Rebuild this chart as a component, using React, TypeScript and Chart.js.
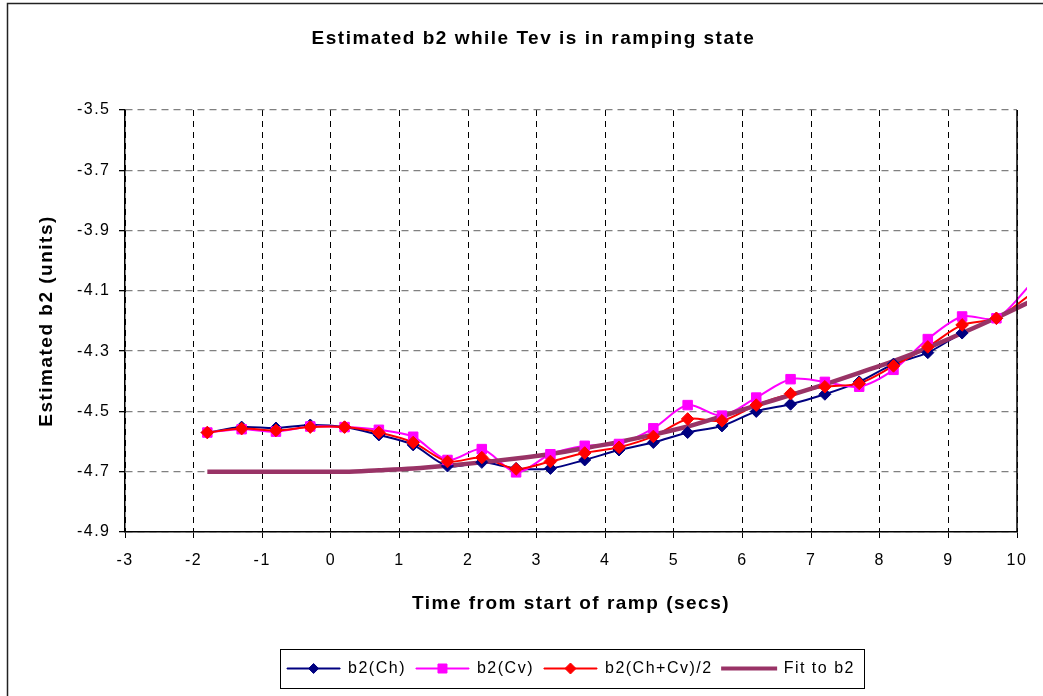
import React, { useEffect, useRef } from 'react';
import { Chart, registerables } from 'chart.js';

Chart.register(...registerables);

// ---- data ----
const TIME = [-1.8, -1.3, -0.8, -0.3, 0.2, 0.7, 1.2, 1.7, 2.2, 2.7, 3.2, 3.7, 4.2, 4.7, 5.2, 5.7, 6.2, 6.7, 7.2, 7.7, 8.2, 8.7, 9.2, 9.7, 10.2];
const B2_CH = [-4.570, -4.552, -4.555, -4.545, -4.552, -4.578, -4.611, -4.681, -4.669, -4.689, -4.689, -4.661, -4.628, -4.603, -4.570, -4.548, -4.500, -4.476, -4.443, -4.402, -4.343, -4.305, -4.240, -4.191, -4.136];
const B2_CV = [-4.570, -4.559, -4.567, -4.550, -4.552, -4.561, -4.584, -4.661, -4.625, -4.702, -4.642, -4.614, -4.608, -4.556, -4.479, -4.514, -4.454, -4.393, -4.402, -4.418, -4.362, -4.260, -4.185, -4.191, -4.078];
const B2_AVG = [-4.570, -4.557, -4.563, -4.552, -4.552, -4.570, -4.603, -4.666, -4.653, -4.691, -4.666, -4.638, -4.619, -4.583, -4.525, -4.531, -4.479, -4.441, -4.418, -4.407, -4.349, -4.286, -4.213, -4.191, -4.111];
const B2_FIT = [-4.700, -4.700, -4.700, -4.700, -4.700, -4.695, -4.689, -4.680, -4.669, -4.656, -4.641, -4.622, -4.601, -4.577, -4.550, -4.516, -4.480, -4.446, -4.410, -4.372, -4.333, -4.289, -4.240, -4.189, -4.135];

const X_TICKS = [-3, -2, -1, 0, 1, 2, 3, 4, 5, 6, 7, 8, 9, 10];
const Y_TICKS = [-4.9, -4.7, -4.5, -4.3, -4.1, -3.9, -3.7, -3.5];

const SERIES_NAMES = ['b2(Ch)', 'b2(Cv)', 'b2(Ch+Cv)/2', 'Fit to b2'];
const TITLE = 'Estimated b2 while Tev is in ramping state';
const X_TITLE = 'Time from start of ramp (secs)';
const Y_TITLE = 'Estimated b2 (units)';

const COLORS = ['#000080', '#FF00FF', '#FF0000', '#993366'];
const FONT = "'Liberation Sans', Arial, sans-serif";
const BOX_W = 53;
const SPACING = '1.5px';

const toPoints = (ys: number[]) => TIME.map((x, i) => ({ x, y: ys[i] }));

const lineDs = (label: string, ys: number[], color: string, order: number, width: number, extra: any = {}) => ({
  label,
  data: toPoints(ys),
  borderColor: color,
  backgroundColor: color,
  borderWidth: width,
  pointRadius: 0,
  tension: 0.3,
  fill: false,
  clip: { left: 0, top: 0, right: 10, bottom: 0 },
  order,
  ...extra,
});

const pointDs = (label: string, ys: number[], color: string, style: string, radius: number, order: number) => ({
  label,
  data: toPoints(ys),
  showLine: false,
  pointStyle: style,
  pointRadius: radius,
  pointBackgroundColor: color,
  pointBorderColor: color,
  pointBorderWidth: 1,
  borderColor: color,
  backgroundColor: color,
  order,
});

function drawMarker(ctx: CanvasRenderingContext2D, kind: string, x: number, y: number, r: number, color: string) {
  ctx.save();
  ctx.fillStyle = color;
  ctx.strokeStyle = color;
  ctx.lineWidth = 1;
  ctx.beginPath();
  if (kind === 'diamond') {
    ctx.moveTo(x - r, y);
    ctx.lineTo(x, y - r);
    ctx.lineTo(x + r, y);
    ctx.lineTo(x, y + r);
    ctx.closePath();
  } else {
    ctx.rect(x - r, y - r, 2 * r, 2 * r);
  }
  ctx.fill();
  ctx.stroke();
  ctx.restore();
}

const decorPlugin = {
  id: 'decor',
  beforeLayout(chart: any) {
    chart.ctx.letterSpacing = SPACING;
  },
  beforeDraw(chart: any) {
    const ctx = chart.ctx;
    ctx.letterSpacing = SPACING;
    ctx.save();
    ctx.strokeStyle = '#222';
    ctx.lineWidth = 1.5;
    ctx.beginPath();
    ctx.moveTo(7.5, 700);
    ctx.lineTo(7.5, 3.5);
    ctx.lineTo(1050, 3.5);
    ctx.stroke();
    ctx.restore();
  },
  afterDraw(chart: any) {
    const { ctx, chartArea } = chart;
    ctx.save();
    ctx.strokeStyle = '#000';
    ctx.lineWidth = 1.5;
    ctx.beginPath();
    ctx.moveTo(chartArea.right, chartArea.top);
    ctx.lineTo(chartArea.right, chartArea.bottom);
    ctx.stroke();

    const hb = chart.legend && chart.legend.legendHitBoxes;
    if (hb && hb.length) {
      const first = hb[0];
      const last = hb[hb.length - 1];
      const cy = first.top + first.height / 2;
      ctx.strokeStyle = '#000';
      ctx.lineWidth = 1;
      ctx.strokeRect(Math.round(first.left - 7) + 0.5, Math.round(cy - 19.5) + 0.5, Math.round(last.left + last.width + 9 - (first.left - 7)), 39);
      const kinds = ['diamond', 'square', 'diamond'];
      const sizes = [5, 4.5, 5.5];
      for (let i = 0; i < 3 && i < hb.length; i++) {
        const b = hb[i];
        drawMarker(ctx, kinds[i], b.left + BOX_W / 2, b.top + b.height / 2, sizes[i], COLORS[i]);
      }
    }
    ctx.restore();
  },
};

export default function App() {
  const ref = useRef<HTMLCanvasElement>(null);

  useEffect(() => {
    document.body.style.margin = '0';
    const canvas = ref.current;
    if (!canvas) return;

    const config: any = {
      type: 'line',
      data: {
        datasets: [
          lineDs(SERIES_NAMES[0], B2_CH, COLORS[0], 7, 2),
          lineDs(SERIES_NAMES[1], B2_CV, COLORS[1], 6, 2),
          lineDs(SERIES_NAMES[2], B2_AVG, COLORS[2], 5, 2),
          lineDs(SERIES_NAMES[3], B2_FIT, COLORS[3], 4, 4.5, { cubicInterpolationMode: 'monotone' }),
          pointDs(SERIES_NAMES[0], B2_CH, COLORS[0], 'rectRot', 6, 3),
          pointDs(SERIES_NAMES[1], B2_CV, COLORS[1], 'rect', 6.7, 2),
          pointDs(SERIES_NAMES[2], B2_AVG, COLORS[2], 'rectRot', 6.3, 1),
        ],
      },
      options: {
        responsive: false,
        animation: false,
        events: [],
        layout: { padding: { left: 50, right: 26, top: 0, bottom: 9.5 } },
        plugins: {
          title: {
            display: true,
            text: TITLE,
            color: '#000',
            font: { size: 19, weight: 'bold', family: FONT },
            padding: { top: 27.4, bottom: 59.8 },
          },
          legend: {
            display: true,
            position: 'bottom',
            fullSize: false,
            labels: {
              boxWidth: BOX_W,
              boxHeight: 1,
              padding: 10,
              color: '#000',
              font: { size: 16, family: FONT },
              generateLabels: () =>
                SERIES_NAMES.map((text, i) => ({
                  text,
                  fillStyle: COLORS[i],
                  strokeStyle: COLORS[i],
                  lineWidth: i === 3 ? 3 : 1,
                  hidden: false,
                  datasetIndex: i,
                  fontColor: '#000',
                })),
            },
          },
          tooltip: { enabled: false },
        },
        scales: {
          x: {
            type: 'linear',
            min: -3,
            max: 10,
            afterBuildTicks: (s: any) => {
              s.ticks = X_TICKS.map((v) => ({ value: v }));
            },
            afterFit: (s: any) => {
              s.height = 118.5;
            },
            ticks: {
              padding: 12.9,
              color: '#000',
              autoSkip: false,
              maxRotation: 0,
              font: { size: 16, family: FONT },
              callback: (v: any) => String(v),
            },
            grid: { color: '#000', lineWidth: 1, tickColor: '#000', tickLength: 6 },
            border: { color: '#000', width: 1.5, dash: [6, 5] },
            title: {
              display: true,
              text: X_TITLE,
              color: '#000',
              font: { size: 19, weight: 'bold', family: FONT },
              padding: { top: 0, bottom: 35 },
            },
          },
          y: {
            type: 'linear',
            min: -4.9,
            max: -3.5,
            afterBuildTicks: (s: any) => {
              s.ticks = Y_TICKS.map((v) => ({ value: v }));
            },
            afterFit: (s: any) => {
              s.width = 75;
            },
            ticks: {
              padding: 8.5,
              color: '#000',
              font: { size: 16, family: FONT },
              callback: (v: any) => Number(v).toFixed(1),
            },
            grid: { color: '#808080', lineWidth: 1.3, tickColor: '#000', tickLength: 6 },
            border: { color: '#000', width: 1.5, dash: [7, 5] },
            title: {
              display: true,
              text: Y_TITLE,
              color: '#000',
              font: { size: 19, weight: 'bold', family: FONT },
              padding: { top: -14.4, bottom: 0 },
            },
          },
        },
      },
      plugins: [decorPlugin],
    };

    const chart = new Chart(canvas, config);
    return () => chart.destroy();
  }, []);

  return <canvas ref={ref} width={1043} height={696} style={{ display: 'block' }} />;
}
